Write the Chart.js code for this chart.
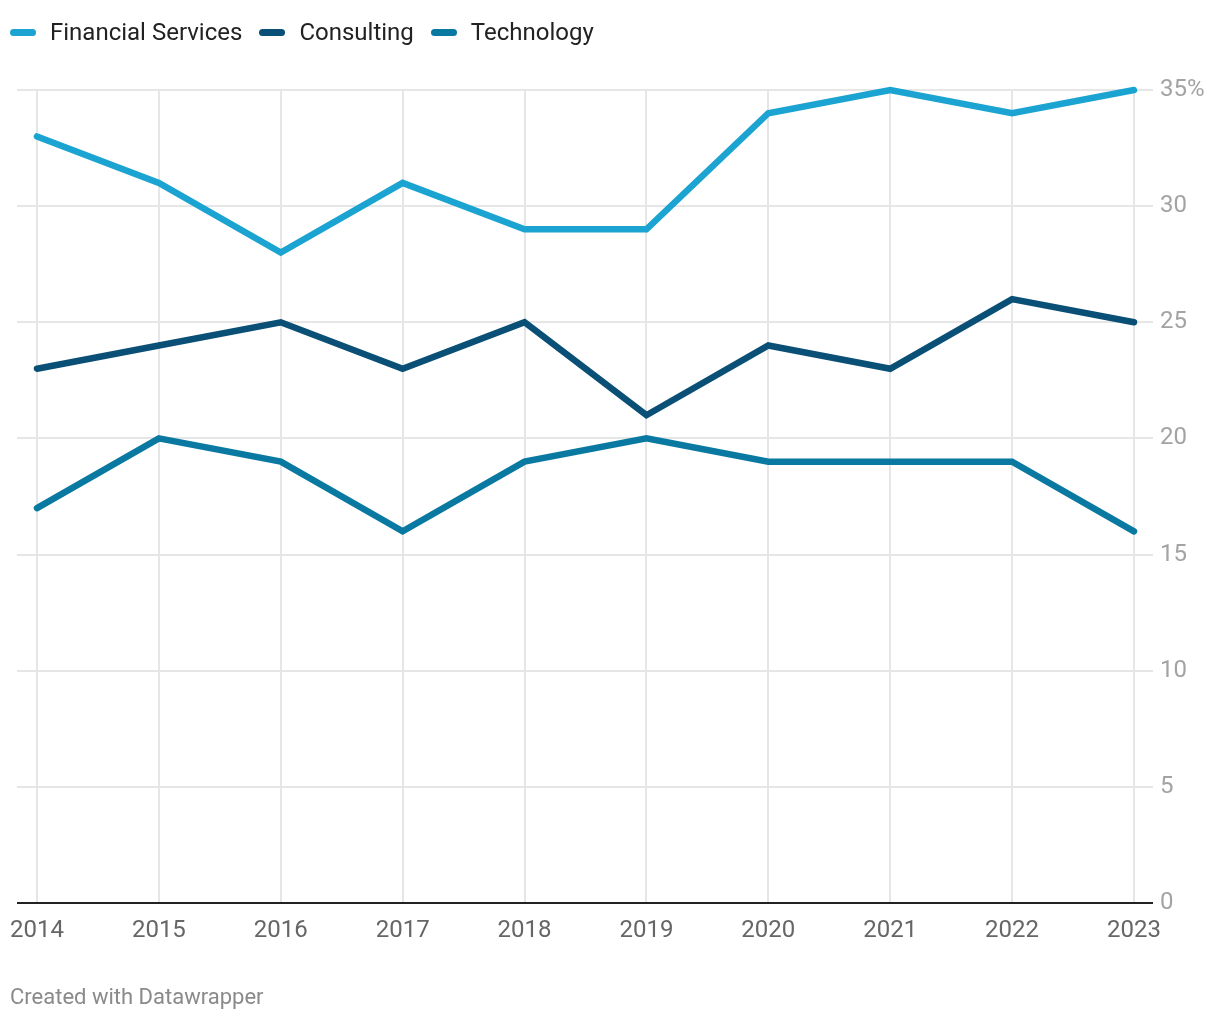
<!DOCTYPE html>
<html><head><meta charset="utf-8">
<script src="https://cdn.jsdelivr.net/npm/chart.js@4/dist/chart.umd.min.js"></script>
<style>
html,body{margin:0;padding:0;background:#fff;}
body{width:1220px;height:1020px;position:relative;overflow:hidden;font-family:Roboto,"Noto Sans",sans-serif;}
#legend{position:absolute;left:10px;top:17px;display:flex;align-items:center;font-size:24px;line-height:30px;color:#222;}
.item{display:flex;align-items:center;margin-right:17px;}
.sw{width:26px;height:7px;border-radius:4px;margin-right:14px;}
#foot{position:absolute;left:10px;top:984px;font-size:22px;line-height:26px;color:#8a8a8a;}
#wrap{position:absolute;left:0;top:0;width:1220px;height:1020px;}
</style></head><body>
<div id="wrap"><canvas id="c" width="1220" height="1020"></canvas></div>
<div id="legend"></div>
<div id="foot">Created with Datawrapper</div>
<script>
const years = [2014,2015,2016,2017,2018,2019,2020,2021,2022,2023];
const financialServices = [33,31,28,31,29,29,34,35,34,35];
const consulting = [23,24,25,23,25,21,24,23,26,25];
const technology = [17,20,19,16,19,20,19,19,19,16];
const yTicks = [0,5,10,15,20,25,30,35];
const seriesNames = ["Financial Services","Consulting","Technology"];
const seriesColors = ["#1ba3d1","#0a4f75","#0979a1"];
const seriesValues = [financialServices, consulting, technology];

const lg = document.getElementById('legend');
seriesNames.forEach((n,i)=>{
  const d=document.createElement('div');d.className='item';
  d.innerHTML='<div class="sw" style="background:'+seriesColors[i]+'"></div><span>'+n+'</span>';
  lg.appendChild(d);
});

new Chart(document.getElementById('c'), {
  type:'line',
  data:{datasets: seriesNames.map((n,i)=>({
    label:n,
    data: years.map((y,j)=>({x:y,y:seriesValues[i][j]})),
    borderColor:seriesColors[i],
    borderWidth:6.5,
    pointRadius:0,
    borderCapStyle:'round',
    borderJoinStyle:'miter',
    tension:0,
    fill:false,
    clip:false
  }))},
  options:{
    responsive:false,
    animation:false,
    devicePixelRatio:1,
    layout:{padding:{top:90,left:17,right:0,bottom:0}},
    plugins:{legend:{display:false},tooltip:{enabled:false}},
    scales:{
      x:{
        type:'linear',
        min:2013.836, max:2023.156,
        afterBuildTicks:(s)=>{s.ticks = years.map(v=>({value:v}));},
        afterFit:(s)=>{s.height=117; s.paddingLeft=0; s.paddingRight=0;},
        ticks:{callback:(v)=>String(v),color:'#666',font:{family:'Roboto',size:24},padding:14,maxRotation:0,autoSkip:false},
        grid:{color:'#e6e6e6',lineWidth:2,drawTicks:false},
        border:{display:false}
      },
      y:{
        position:'right',
        min:0,max:35,
        afterBuildTicks:(s)=>{s.ticks = yTicks.map(v=>({value:v}));},
        afterFit:(s)=>{s.width=67; s.paddingTop=0; s.paddingBottom=0;},
        ticks:{callback:(v)=> v===35 ? v+'%' : String(v),color:'#a3a3a3',font:{family:'Roboto',size:24},padding:7},
        grid:{color:(c)=> c.tick && c.tick.value===0 ? '#222' : '#e6e6e6', lineWidth:2, drawTicks:false},
        border:{display:false}
      }
    }
  }
});
</script>
</body></html>
